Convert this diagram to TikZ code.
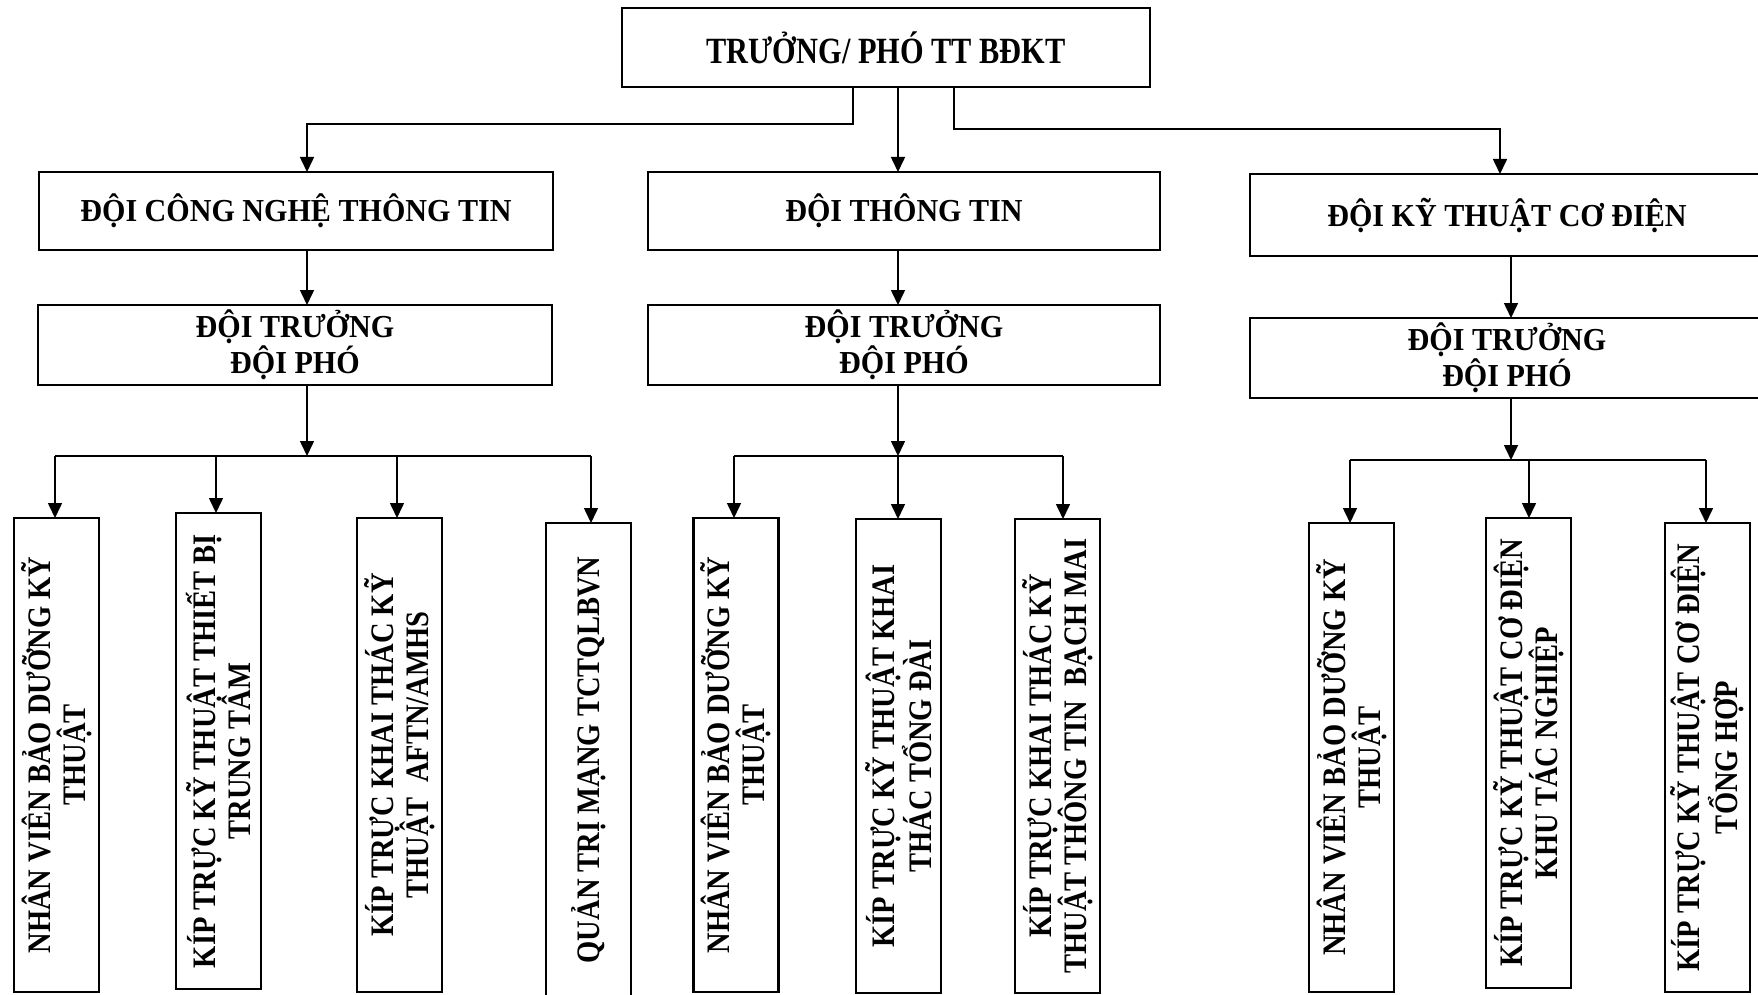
\documentclass[tikz,border=0pt]{standalone}
\usepackage{fontspec}
\setmainfont{Liberation Serif}
\newfontfamily\headfont[FakeStretch=0.82]{Liberation Serif}
\newfontfamily\unitfont[FakeStretch=0.94]{Liberation Serif}
\newfontfamily\crewfont[FakeStretch=0.87]{Liberation Serif}
\usetikzlibrary{arrows.meta}
\begin{document}
\begin{tikzpicture}[x=0.5pt,y=-0.5pt,
  every node/.style={inner sep=0pt, outer sep=0pt},
  headbox/.style={draw, line width=1.3pt, minimum width=264pt, minimum height=39.5pt,
    font=\headfont\bfseries\fontsize{18.5}{19}\selectfont},
  unitbox/.style={draw, line width=1.1pt, align=center, minimum width=257pt,
    font=\unitfont\bfseries\fontsize{16}{15.6}\selectfont},
  crewbox/.style={draw, line width=1.1pt, rotate=90, align=center, minimum height=42.5pt,
    font=\crewfont\bfseries\fontsize{16.4}{17.5}\selectfont},
  wire/.style={line width=0.8pt},
  link/.style={wire, -{Triangle[length=7.5pt,width=7pt]}},
]
\clip (0,0) rectangle (1758,995);
\fill[white] (0,0) rectangle (1758,995);

% head of the centre
\node[headbox] (T) at (886,47.5) {TRƯỞNG/ PHÓ TT BĐKT};

% teams
\node[unitbox, minimum height=39pt] (A) at (296,211) {ĐỘI CÔNG NGHỆ THÔNG TIN};
\node[unitbox, minimum height=39pt, minimum width=256pt] (B) at (904,211) {ĐỘI THÔNG TIN};
\node[unitbox, minimum height=41pt] (C) at (1507,215) {ĐỘI KỸ THUẬT CƠ ĐIỆN};

% team leaders
\node[unitbox, minimum height=40pt] (A2) at (295,345) {ĐỘI TRƯỞNG\\ĐỘI PHÓ};
\node[unitbox, minimum height=40pt, minimum width=256pt] (B2) at (904,345) {ĐỘI TRƯỞNG\\ĐỘI PHÓ};
\node[unitbox, minimum height=40pt] (C2) at (1507,358) {ĐỘI TRƯỞNG\\ĐỘI PHÓ};

% duty crews
\node[crewbox, minimum width=237pt] (b1) at (56.5,755) {NHÂN VIÊN BẢO DƯỠNG KỸ\\THUẬT};
\node[crewbox, minimum width=238pt] (b2) at (218.5,751) {KÍP TRỰC KỸ THUẬT THIẾT BỊ\\TRUNG TÂM};
\node[crewbox, minimum width=237pt] (b3) at (399.5,755) {KÍP TRỰC KHAI THÁC KỸ\\THUẬT\ \ AFTN/AMHS};
\node[crewbox, minimum width=237pt] (b4) at (588.5,760) {QUẢN TRỊ MẠNG TCTQLBVN};
\node[crewbox, minimum width=237pt] (b5) at (736,755) {NHÂN VIÊN BẢO DƯỠNG KỸ\\THUẬT};
\node[crewbox, minimum width=237pt] (b6) at (898.5,756) {KÍP TRỰC KỸ THUẬT KHAI\\THÁC TỔNG ĐÀI};
\node[crewbox, minimum width=237pt] (b7) at (1057.5,756) {KÍP TRỰC KHAI THÁC KỸ\\THUẬT THÔNG TIN\ \ BẠCH MAI};
\node[crewbox, minimum width=234.5pt] (b8) at (1351.5,757.5) {NHÂN VIÊN BẢO DƯỠNG KỸ\\THUẬT};
\node[crewbox, minimum width=235pt] (b9) at (1528.5,753) {KÍP TRỰC KỸ THUẬT CƠ ĐIỆN\\KHU TÁC NGHIỆP};
\node[crewbox, minimum width=234.5pt] (b10) at (1707.5,757.5) {KÍP TRỰC KỸ THUẬT CƠ ĐIỆN\\TỔNG HỢP};

% elbows of the connectors
\coordinate (eL1) at (853,124);
\coordinate (eL2) at (307,124);
\coordinate (eM) at (898,124);
\coordinate (eR1) at (954,129);
\coordinate (eR2) at (1500,129);
\coordinate (eC) at (1511,300);

% head to teams
\draw[link] (eL1 |- T.south) -- (eL1) -- (eL2) -- (eL2 |- A.north);
\draw[link] (eM |- T.south) -- (eM |- B.north);
\draw[link] (eR1 |- T.south) -- (eR1) -- (eR2) -- (eR2 |- C.north);

% teams to leaders
\draw[link] (eL2 |- A.south) -- (eL2 |- A2.north);
\draw[link] (eM |- B.south) -- (eM |- B2.north);
\draw[link] (eC |- C.south) -- (eC |- C2.north);

% distribution bars
\coordinate (pA) at (307,456);
\coordinate (pB) at (898,456);
\coordinate (pC) at (1511,460);
\coordinate (a1) at (55,456);
\coordinate (a2) at (216,456);
\coordinate (a3) at (397,456);
\coordinate (a4) at (591,456);
\coordinate (m1) at (734,456);
\coordinate (m2) at (898,456);
\coordinate (m3) at (1063,456);
\coordinate (r1) at (1350,460);
\coordinate (r2) at (1529,460);
\coordinate (r3) at (1706,460);

\draw[link] (pA |- A2.south) -- (pA);
\draw[link] (pB |- B2.south) -- (pB);
\draw[link] (pC |- C2.south) -- (pC);

\draw[wire] (a1) -- (a4);
\draw[wire] (m1) -- (m3);
\draw[wire] (r1) -- (r3);

% bars to crews
\draw[link] (a1) -- (a1 |- b1.east);
\draw[link] (a2) -- (a2 |- b2.east);
\draw[link] (a3) -- (a3 |- b3.east);
\draw[link] (a4) -- (a4 |- b4.east);
\draw[link] (m1) -- (m1 |- b5.east);
\draw[link] (m2) -- (m2 |- b6.east);
\draw[link] (m3) -- (m3 |- b7.east);
\draw[link] (r1) -- (r1 |- b8.east);
\draw[link] (r2) -- (r2 |- b9.east);
\draw[link] (r3) -- (r3 |- b10.east);
\end{tikzpicture}
\end{document}
